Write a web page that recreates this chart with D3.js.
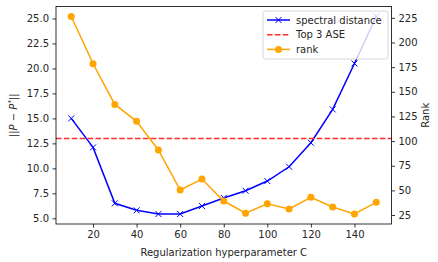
<!DOCTYPE html>
<html>
<head>
<meta charset="utf-8">
<script src="https://cdn.jsdelivr.net/npm/d3@7"></script>
<style>
body{margin:0;background:#fff;}
text{font-family:"DejaVu Sans",sans-serif;}
</style>
</head>
<body>
<div id="plot"></div>
<script>
// data
var cValues = [10,20,30,40,50,60,70,80,90,100,110,120,130,140,150];
var spectral = [15.0,12.1,6.5,5.8,5.43,5.43,6.23,7.04,7.76,8.73,10.16,12.56,15.9,20.5,25.2];
var rank = [226.4,178.4,137.2,120.0,91,50.4,61.5,39.2,26.8,36.5,31.1,43,33.1,26.1,37.9];
var top3ASE = 13.0;
var xTicks = [20,40,60,80,100,120,140];
var leftTicks = [5,7.5,10,12.5,15,17.5,20,22.5,25];
var rightTicks = [25,50,75,100,125,150,175,200,225];

var W = 438, H = 262;
var margin = {t:6.5,r:46.5,b:38,l:56};
var width = W-margin.l-margin.r,
	height = H-margin.t-margin.b;

var svg = d3.select('#plot').append('svg')
	.attr('width',W).attr('height',H);
var plot = svg.append('g')
	.attr('transform','translate('+margin.l+','+margin.t+')');

var x = d3.scaleLinear().domain([3,157]).range([0,width]);
var yL = d3.scaleLinear().domain([4.43,26.2]).range([height,0]);
var yR = d3.scaleLinear().domain([15.9,236.5]).range([height,0]);

function styleAxis(g){
	g.select('.domain').remove();
	g.selectAll('.tick line').attr('stroke','#000').attr('stroke-width',0.8);
	g.selectAll('.tick text').attr('font-size','10px').attr('fill','#262626')
		.attr('font-family','"DejaVu Sans",sans-serif');
}

plot.append('g').attr('transform','translate(0,'+height+')')
	.call(d3.axisBottom(x).tickValues(xTicks).tickSize(3.5).tickPadding(3.5))
	.call(styleAxis);
plot.append('g')
	.call(d3.axisLeft(yL).tickValues(leftTicks).tickFormat(d3.format('.1f')).tickSize(3.5).tickPadding(3.5))
	.call(styleAxis);
plot.append('g').attr('transform','translate('+width+',0)')
	.call(d3.axisRight(yR).tickValues(rightTicks).tickSize(3.5).tickPadding(3.5))
	.call(styleAxis);

// spectral distance
var lineL = d3.line().x(function(d,i){return x(cValues[i]);}).y(function(d){return yL(d);});
plot.append('path').datum(spectral)
	.attr('d',lineL).attr('fill','none').attr('stroke','blue').attr('stroke-width',1.5);
spectral.forEach(function(v,i){
	var cx = x(cValues[i]), cy = yL(v), s = 3;
	plot.append('path')
		.attr('d','M'+(cx-s)+','+(cy-s)+'L'+(cx+s)+','+(cy+s)+'M'+(cx-s)+','+(cy+s)+'L'+(cx+s)+','+(cy-s))
		.attr('stroke','blue').attr('stroke-width',1);
});

// top 3 ASE line
plot.append('line')
	.attr('x1',0).attr('x2',width)
	.attr('y1',yL(top3ASE)).attr('y2',yL(top3ASE))
	.attr('stroke','#ff2a2a').attr('stroke-width',1.5)
	.attr('stroke-dasharray','5.5,2.4');

// rank on twin axis
var lineR = d3.line().x(function(d,i){return x(cValues[i]);}).y(function(d){return yR(d);});
plot.append('path').datum(rank)
	.attr('d',lineR).attr('fill','none').attr('stroke','orange').attr('stroke-width',1.5);
plot.selectAll('.rk').data(rank).enter().append('circle')
	.attr('cx',function(d,i){return x(cValues[i]);})
	.attr('cy',function(d){return yR(d);})
	.attr('r',3.5).attr('fill','orange');

// frame
plot.append('rect').attr('width',width).attr('height',height)
	.attr('fill','none').attr('stroke','#000').attr('stroke-width',0.8);

// labels
svg.append('text').attr('x',margin.l+width/2).attr('y',H-6)
	.attr('text-anchor','middle').attr('font-size','10px').attr('fill','#262626')
	.text('Regularization hyperparameter C');
var yl = svg.append('text')
	.attr('transform','translate(17,'+(margin.t+height/2)+') rotate(-90)')
	.attr('text-anchor','middle').attr('font-size','10px').attr('fill','#262626');
yl.append('tspan').text('||');
yl.append('tspan').attr('font-style','italic').text('P');
yl.append('tspan').text(' \u2212 ');
yl.append('tspan').attr('font-style','italic').text('P');
yl.append('tspan').attr('font-size','7px').attr('dy','-4').text('*');
yl.append('tspan').attr('dy','4').text('||');
svg.append('text')
	.attr('transform','translate(429,'+(margin.t+height/2)+') rotate(-90)')
	.attr('text-anchor','middle').attr('font-size','10px').attr('fill','#262626')
	.text('Rank');

// legend
var legendItems = [
	{label:'spectral distance', color:'blue', kind:'x'},
	{label:'Top 3 ASE', color:'#ff2a2a', kind:'dash'},
	{label:'rank', color:'orange', kind:'o'}
];
var lg = svg.append('g').attr('transform','translate(263,11)');
lg.append('rect').attr('width',125).attr('height',48).attr('rx',2.5)
	.attr('fill','#fff').attr('fill-opacity',0.8).attr('stroke','#ccc').attr('stroke-width',0.8);
legendItems.forEach(function(d,i){
	var yy = 9 + i*14.7;
	var ln = lg.append('line').attr('x1',4).attr('x2',27).attr('y1',yy).attr('y2',yy)
		.attr('stroke',d.color).attr('stroke-width',1.5);
	if (d.kind==='dash') ln.attr('stroke-dasharray','5.5,2.4');
	if (d.kind==='x') {
		lg.append('path').attr('d','M12.5,'+(yy-3)+'L18.5,'+(yy+3)+'M12.5,'+(yy+3)+'L18.5,'+(yy-3))
			.attr('stroke',d.color).attr('stroke-width',1);
	}
	if (d.kind==='o') lg.append('circle').attr('cx',15.5).attr('cy',yy).attr('r',3.5).attr('fill',d.color);
	lg.append('text').attr('x',33).attr('y',yy+3.6).attr('font-size','10px').attr('fill','#262626').text(d.label);
});
</script>
</body>
</html>
